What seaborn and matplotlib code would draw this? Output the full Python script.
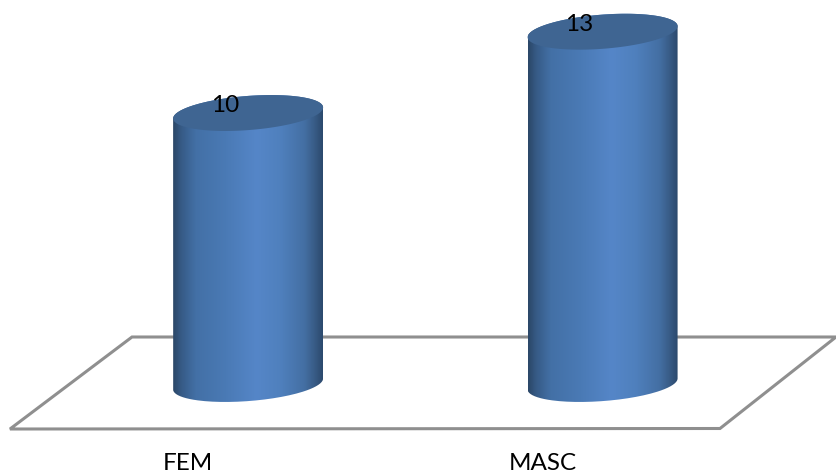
import numpy as np
import matplotlib
matplotlib.use("Agg")
import matplotlib.pyplot as plt
from matplotlib.colors import LinearSegmentedColormap
from matplotlib.patches import PathPatch, Polygon
from matplotlib.path import Path
from matplotlib.transforms import IdentityTransform
import seaborn as sns

# Counts per group
categories = ["FEM", "MASC"]
counts = [10, 13]

W, H = 836, 473
sns.set_theme(style="white")
plt.rcParams["font.family"] = ["Lato", "DejaVu Sans"]

fig = plt.figure(figsize=(W / 100, H / 100), dpi=100)
ax = fig.add_axes([0, 0, 1, 1])

sns.barplot(x=categories, y=counts, color="#4f81bd", width=0.423, ax=ax)
XLIM = (-0.70, 1.6585)
YLIM = (-(H - 384) / 27.1, 384 / 27.1)
ax.set_xlim(*XLIM)
ax.set_ylim(*YLIM)
ax.axis("off")

# Floor outline in axes fractions, corners given in pixels from the top left
floor_px = [(10, 429), (132, 337), (836, 337), (720, 428.5)]
floor = [(x / W, 1 - y / H) for x, y in floor_px]
ax.add_patch(Polygon(floor, closed=True, fill=False, edgecolor="#8f8f8f", lw=2.2,
                     transform=ax.transAxes, zorder=1, clip_on=False))

shade = LinearSegmentedColormap.from_list(
    "cyl",
    [(0.00, "#2b4768"), (0.05, "#365a85"), (0.15, "#4370a6"), (0.35, "#4a7ab5"),
     (0.56, "#5586c8"), (0.72, "#4f80bd"), (0.88, "#446fa3"), (0.95, "#385b85"),
     (1.00, "#2c4a6e")],
)
gradient = np.linspace(0, 1, 300).reshape(1, -1)

# Half width of the cylinder and the sheared ellipse of its end faces, in pixels
half_w = 75.0
shear = 5.5
half_h = 17.1


def ring(cx, cy, t):
    return np.column_stack([cx + half_w * np.cos(t), cy + shear * np.cos(t) + half_h * np.sin(t)])


for bar, value, name in zip(ax.patches, counts, categories):
    bar.set_visible(False)
    x0, width = bar.get_x(), bar.get_width()
    cx, base = ax.transData.transform((x0 + width / 2, 0))
    _, top = ax.transData.transform((x0 + width / 2, value))

    # Body: along the top ellipse, then back around the lower half of the base
    upper = ring(cx, top, np.linspace(0, np.pi, 80))
    lower = ring(cx, base, np.linspace(np.pi, 2 * np.pi, 80))
    outline = np.vstack([upper, lower, upper[:1]])
    body_clip = PathPatch(Path(outline), transform=IdentityTransform(), fc="none", ec="none")
    ax.add_patch(body_clip)
    im = ax.imshow(gradient, cmap=shade, aspect="auto", interpolation="bicubic",
                   extent=(x0, x0 + width, -1, value + 1), zorder=2)
    im.set_clip_path(body_clip)

    # Top face
    cap = ring(cx, top, np.linspace(0, 2 * np.pi, 160))
    ax.add_patch(PathPatch(Path(cap, closed=False), transform=IdentityTransform(),
                           fc="#3f6592", ec="none", zorder=3))

    # Value above the top face, category name below the floor
    ax.annotate(str(value), (x0 + width / 2, value), xytext=(-23 * 0.72, 7.5 * 0.72),
                textcoords="offset points", ha="center", va="center",
                fontsize=17.5, color="black", zorder=4)
    ax.annotate(name, (x0 + width / 2, 0), xytext=(-60 * 0.72, -79 * 0.72),
                textcoords="offset points", ha="center", va="center",
                fontsize=17.5, color="black", zorder=4, annotation_clip=False)

ax.set_xlim(*XLIM)
ax.set_ylim(*YLIM)
fig.savefig("out.png", dpi=100, facecolor="white")
